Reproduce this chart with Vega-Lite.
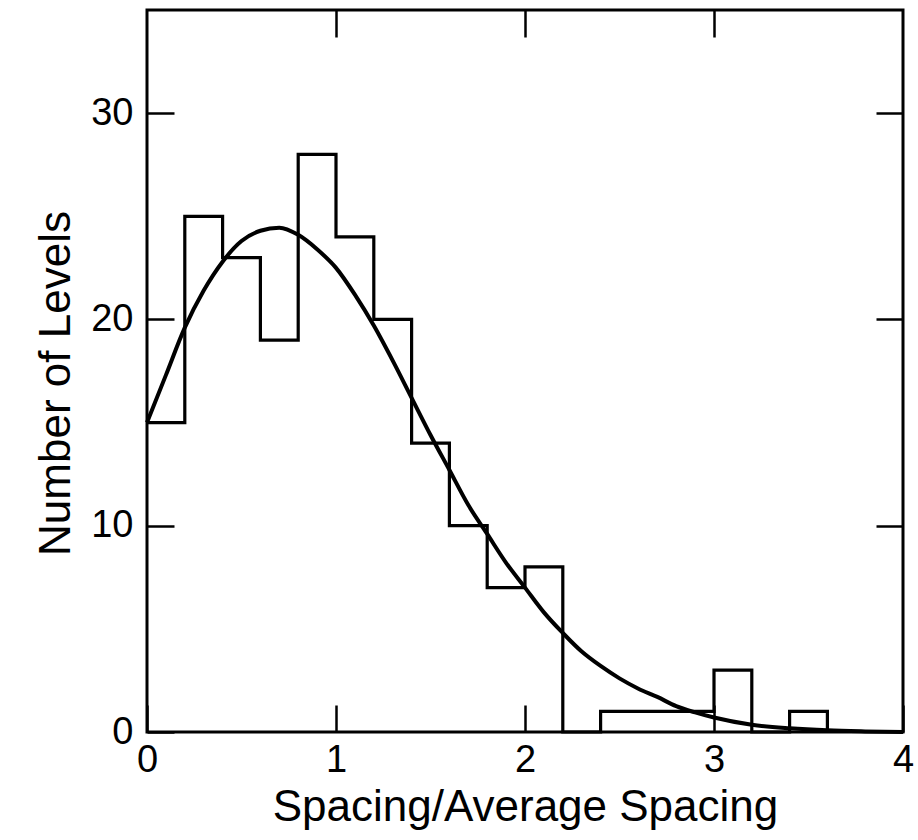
{
  "$schema": "https://vega.github.io/schema/vega-lite/v6.json",
  "width": 756,
  "height": 722,
  "autosize": {"type": "none"},
  "padding": {"left": 147, "top": 10, "right": 15, "bottom": 108},
  "background": "white",
  "config": {
    "view": {"stroke": "black", "strokeWidth": 3},
    "axis": {
      "domain": false,
      "grid": false,
      "ticks": true,
      "tickColor": "black",
      "tickWidth": 2.5,
      "tickSize": -27,
      "labelFlush": false,
      "labelFont": "Liberation Sans",
      "labelFontSize": 38,
      "labelColor": "black",
      "titleFont": "Liberation Sans",
      "titleFontSize": 44,
      "titleFontWeight": "normal",
      "titleColor": "black"
    }
  },
  "layer": [
    {
      "data": {
        "values": [
          {"edge": 0.0, "count": 15},
          {"edge": 0.2, "count": 25},
          {"edge": 0.4, "count": 23},
          {"edge": 0.6, "count": 19},
          {"edge": 0.8, "count": 28},
          {"edge": 1.0, "count": 24},
          {"edge": 1.2, "count": 20},
          {"edge": 1.4, "count": 14},
          {"edge": 1.6, "count": 10},
          {"edge": 1.8, "count": 7},
          {"edge": 2.0, "count": 8},
          {"edge": 2.2, "count": 0},
          {"edge": 2.4, "count": 1},
          {"edge": 2.6, "count": 1},
          {"edge": 2.8, "count": 1},
          {"edge": 3.0, "count": 3},
          {"edge": 3.2, "count": 0},
          {"edge": 3.4, "count": 1},
          {"edge": 3.6, "count": 0}
        ]
      },
      "mark": {"type": "line", "interpolate": "step-after", "color": "black", "strokeWidth": 3.2},
      "encoding": {
        "x": {
          "field": "edge", "type": "quantitative",
          "scale": {"domain": [0, 4], "nice": false},
          "axis": {"orient": "bottom", "values": [0, 1, 2, 3, 4], "title": "Spacing/Average Spacing", "labelPadding": 36, "titlePadding": 6}
        },
        "y": {
          "field": "count", "type": "quantitative",
          "scale": {"domain": [0, 35], "nice": false},
          "axis": {"orient": "left", "values": [0, 10, 20, 30], "title": "Number of Levels", "labelPadding": 41, "titlePadding": 12, "titleY": 373}
        }
      }
    },
    {
      "data": {
        "values": [
          {"s": 0.0, "n": 15.0},
          {"s": 0.1, "n": 17.3},
          {"s": 0.2, "n": 19.6},
          {"s": 0.3, "n": 21.4},
          {"s": 0.4, "n": 22.8},
          {"s": 0.5, "n": 23.8},
          {"s": 0.6, "n": 24.3},
          {"s": 0.7, "n": 24.45},
          {"s": 0.8, "n": 24.1},
          {"s": 0.9, "n": 23.4},
          {"s": 1.0, "n": 22.5},
          {"s": 1.1, "n": 21.2},
          {"s": 1.2, "n": 19.7},
          {"s": 1.3, "n": 18.0},
          {"s": 1.4, "n": 16.2},
          {"s": 1.5, "n": 14.4},
          {"s": 1.6, "n": 12.7},
          {"s": 1.7, "n": 11.0},
          {"s": 1.8, "n": 9.6},
          {"s": 1.9, "n": 8.2},
          {"s": 2.0, "n": 7.0},
          {"s": 2.1, "n": 5.8},
          {"s": 2.2, "n": 4.8},
          {"s": 2.3, "n": 3.9},
          {"s": 2.4, "n": 3.2},
          {"s": 2.5, "n": 2.6},
          {"s": 2.6, "n": 2.1},
          {"s": 2.7, "n": 1.7},
          {"s": 2.8, "n": 1.25},
          {"s": 2.9, "n": 0.95},
          {"s": 3.0, "n": 0.7},
          {"s": 3.2, "n": 0.35},
          {"s": 3.4, "n": 0.18},
          {"s": 3.6, "n": 0.08},
          {"s": 3.8, "n": 0.03},
          {"s": 4.0, "n": 0.0}
        ]
      },
      "mark": {"type": "line", "interpolate": "monotone", "color": "black", "strokeWidth": 4},
      "encoding": {
        "x": {
          "field": "s", "type": "quantitative",
          "scale": {"domain": [0, 4], "nice": false},
          "axis": {"orient": "top", "values": [1, 2, 3], "labels": false, "title": null}
        },
        "y": {
          "field": "n", "type": "quantitative",
          "scale": {"domain": [0, 35], "nice": false},
          "axis": {"orient": "right", "values": [10, 20, 30], "labels": false, "title": null}
        }
      }
    }
  ],
  "resolve": {"axis": {"x": "independent", "y": "independent"}}
}
